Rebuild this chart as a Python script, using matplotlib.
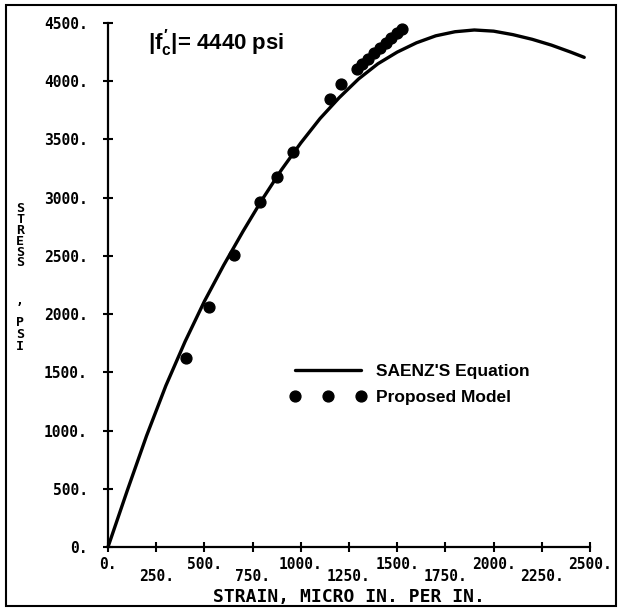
import matplotlib
matplotlib.use("Agg")
import matplotlib.pyplot as plt
from matplotlib.patches import Rectangle

# Saenz equation curve
curve_strain = [0, 100, 200, 300, 400, 500, 600, 700, 800, 900, 1000, 1100, 1200,
                1300, 1400, 1500, 1600, 1700, 1800, 1900, 2000, 2100, 2200, 2300,
                2400, 2470]
curve_stress = [0, 485, 955, 1385, 1765, 2110, 2420, 2710, 2985, 3240, 3470, 3680,
                3860, 4020, 4150, 4250, 4330, 4390, 4425, 4440, 4430, 4400, 4360,
                4310, 4250, 4205]

# proposed model points
model_strain = [402, 522, 652, 787, 875, 958, 1154, 1211, 1289, 1320, 1350, 1380,
                1410, 1440, 1470, 1500, 1527]
model_stress = [1620, 2060, 2510, 2960, 3175, 3390, 3850, 3980, 4109, 4150, 4195,
                4240, 4285, 4330, 4375, 4415, 4452]

x_major = [0, 500, 1000, 1500, 2000, 2500]
x_minor = [250, 750, 1250, 1750, 2250]
y_ticks = [0, 500, 1000, 1500, 2000, 2500, 3000, 3500, 4000, 4500]

mono = "DejaVu Sans Mono"
sans = "Liberation Sans"
plt.rcParams['mathtext.fontset'] = 'custom'
plt.rcParams['mathtext.bf'] = 'Liberation Sans:bold'
plt.rcParams['mathtext.rm'] = 'Liberation Sans:bold'
plt.rcParams['mathtext.it'] = 'Liberation Sans:bold'

W, H = 620, 614
fig = plt.figure(figsize=(6.2, 6.14), dpi=100)
ax = fig.add_axes([108 / W, 1 - 547 / H, (590 - 108) / W, (547 - 23) / H])

line, = ax.plot(curve_strain, curve_stress, color='black', lw=2.4,
                solid_capstyle='round', solid_joinstyle='round', clip_on=False)
dots, = ax.plot(model_strain, model_stress, 'o', color='black', ms=7.8,
                linestyle='none', clip_on=False)

ax.set_xlim(0, 2500)
ax.set_ylim(0, 4500)
for s in ['top', 'right']:
    ax.spines[s].set_visible(False)
for s in ['left', 'bottom']:
    ax.spines[s].set_linewidth(1.6)

ax.set_xticks(x_major, labels=[f"{v}." for v in x_major])
ax.set_xticks(x_minor, labels=[f"{v}." for v in x_minor], minor=True)
ax.set_yticks(y_ticks, labels=[f"{v}." for v in y_ticks])
ax.tick_params(which='both', direction='inout', length=7, width=1.5,
               colors='black')
ax.tick_params(axis='x', which='major', pad=4)
ax.tick_params(axis='x', which='minor', pad=12)
ax.tick_params(axis='y', pad=11)
for lab in ax.get_xticklabels(which='both') + ax.get_yticklabels():
    lab.set_fontfamily(mono)
    lab.set_fontweight('bold')
    lab.set_fontsize(10.5)

# x axis title
fig.text(349 / W, 1 - 597 / H, "STRAIN, MICRO IN. PER IN.", ha='center',
         va='center', fontfamily=mono, fontweight='bold', fontsize=13)

# vertical stacked y label
fig.text(20 / W, 1 - 236 / H, "S\nT\nR\nE\nS\nS", ha='center', va='center',
         fontfamily=mono, fontweight='bold', fontsize=9.5, linespacing=0.78)
fig.text(20 / W, 1 - 300 / H, ",", ha='center', va='center',
         fontfamily=mono, fontweight='bold', fontsize=9.5)
fig.text(20 / W, 1 - 334 / H, "P\nS\nI", ha='center', va='center',
         fontfamily=mono, fontweight='bold', fontsize=9.5, linespacing=0.9)

fig.text(148 / W, 1 - 43 / H, r"$|f_c^{\prime}|$= 4440 psi", ha='left',
         va='center', fontfamily=sans, fontweight='bold', fontsize=16)

ax.legend([line, dots], ["SAENZ'S Equation", "Proposed Model"], numpoints=3,
          frameon=False, loc='upper left',
          bbox_to_anchor=(290 / W, 1 - 364 / H), bbox_transform=fig.transFigure,
          borderpad=0, borderaxespad=0, handlelength=4.4, handletextpad=0.55,
          labelspacing=0.6,
          prop={'family': sans, 'weight': 'bold', 'size': 12.5})

fig.add_artist(Rectangle((6 / W, 1 - 606 / H), (616 - 6) / W, (606 - 5) / H,
                         transform=fig.transFigure, fill=False,
                         edgecolor='black', lw=1.5))

fig.savefig("out.png", dpi=100)
